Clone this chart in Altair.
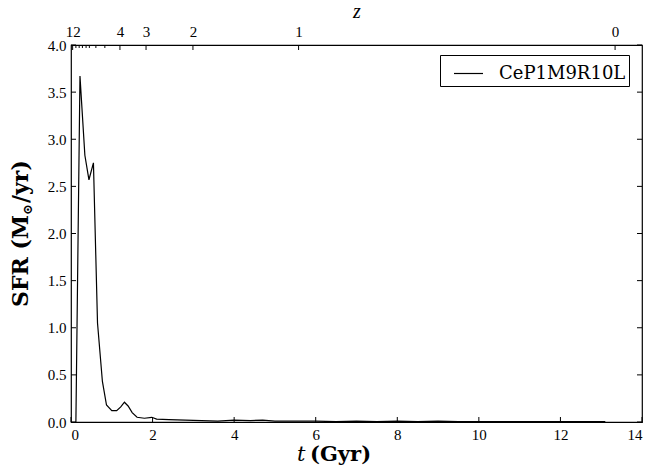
import altair as alt
import pandas as pd

# ---- data ----
t_gyr = [0.12, 0.22, 0.34, 0.44, 0.55, 0.65, 0.77, 0.87, 1.00, 1.12, 1.22, 1.31,
         1.40, 1.50, 1.62, 1.80, 1.98, 2.10, 2.40, 2.80, 3.20, 3.60, 4.00, 4.40,
         4.70, 5.00, 5.50, 6.00, 6.50, 7.00, 7.50, 8.00, 8.50, 9.00, 9.50, 10.0,
         10.5, 11.0, 11.5, 12.0, 12.5, 13.1]
sfr = [0.0, 3.67, 2.83, 2.57, 2.75, 1.05, 0.43, 0.18, 0.12, 0.12, 0.16, 0.21,
       0.17, 0.10, 0.05, 0.04, 0.05, 0.03, 0.025, 0.02, 0.015, 0.01, 0.02, 0.015,
       0.02, 0.01, 0.01, 0.01, 0.005, 0.01, 0.005, 0.01, 0.005, 0.01, 0.005, 0.005,
       0.005, 0.005, 0.005, 0.005, 0.005, 0.005]
series_name = "CeP1M9R10L"

x_ticks = [0, 2, 4, 6, 8, 10, 12, 14]
y_ticks = [0.0, 0.5, 1.0, 1.5, 2.0, 2.5, 3.0, 3.5, 4.0]
z_labels = ["12", "4", "3", "2", "1", "0"]
z_label_t = [0.04, 1.20, 1.84, 2.99, 5.58, 13.34]
z_minor_t = [0.12, 0.20, 0.28, 0.37, 0.45, 0.61, 0.83]

x_title_parts = ["t", "(Gyr)"]
y_title_parts = ["SFR (M", "⊙", "/yr)"]

W, H = 571, 377
FONT = "Liberation Serif"
TFONT = "DejaVu Serif"

xscale = alt.Scale(domain=[0, 14], nice=False, zero=False)
yscale = alt.Scale(domain=[0, 4], nice=False, zero=False)

line_df = pd.DataFrame({"t": t_gyr, "sfr": sfr, "run": series_name})

line = alt.Chart(line_df).mark_line(strokeWidth=1.2).encode(
    x=alt.X("t:Q", scale=xscale,
            axis=alt.Axis(values=x_ticks, format="d", title=None,
                          ticks=False, tickSize=0, domain=False, grid=False,
                          labelFont=FONT, labelFontSize=15, labelColor="black",
                          labelPadding=5)),
    y=alt.Y("sfr:Q", scale=yscale,
            axis=alt.Axis(values=y_ticks, format=".1f", title=None,
                          ticks=False, tickSize=0, domain=False, grid=False,
                          labelFont=FONT, labelFontSize=15, labelColor="black",
                          labelPadding=5)),
    color=alt.Color("run:N", scale=alt.Scale(range=["black"]),
                    legend=alt.Legend(title=None, orient="none", legendX=369, legendY=10,
                                      strokeColor="black", fillColor="white", padding=3,
                                      cornerRadius=0, symbolType="stroke", symbolSize=841,
                                      symbolStrokeWidth=1.2, symbolOffset=10,
                                      labelFont=TFONT, labelFontSize=18, labelColor="black",
                                      labelOffset=15)),
)

# inward ticks (matplotlib classic style)
bottom_ticks = alt.Chart(pd.DataFrame({"t": x_ticks})).mark_rule(color="black").encode(
    x=alt.X("t:Q", scale=xscale, axis=None), y=alt.value(H), y2=alt.value(H - 5))

left_ticks = alt.Chart(pd.DataFrame({"v": y_ticks})).mark_rule(color="black").encode(
    y=alt.Y("v:Q", scale=yscale, axis=None), x=alt.value(0), x2=alt.value(5))

right_ticks = alt.Chart(pd.DataFrame({"v": y_ticks})).mark_rule(color="black").encode(
    y=alt.Y("v:Q", scale=yscale, axis=None), x=alt.value(W), x2=alt.value(W - 5))

# top redshift axis
cuts = [(a + b) / 2 for a, b in zip(z_label_t[:-1], z_label_t[1:])]
expr = "'" + z_labels[-1] + "'"
for c, lab in reversed(list(zip(cuts, z_labels[:-1]))):
    expr = f"datum.value < {c} ? '{lab}' : " + expr

top_major = alt.Chart(pd.DataFrame({"t": z_label_t})).mark_rule(color="black").encode(
    x=alt.X("t:Q", scale=xscale,
            axis=alt.Axis(orient="top", values=z_label_t, labelExpr=expr, title="z",
                          ticks=False, tickSize=0, domain=False, grid=False,
                          labelFont=FONT, labelFontSize=15, labelColor="black",
                          labelPadding=6, titleFont=FONT, titleFontSize=20,
                          titleFontStyle="italic", titleFontWeight="normal",
                          titleColor="black", titlePadding=3)),
    y=alt.value(0), y2=alt.value(5))

top_minor = alt.Chart(pd.DataFrame({"t": z_minor_t})).mark_rule(color="black").encode(
    x=alt.X("t:Q", scale=xscale, axis=None), y=alt.value(0), y2=alt.value(3))


def piece(txt, x, y, size, weight="normal", style="normal", angle=0):
    return alt.Chart(pd.DataFrame({"s": [txt]})).mark_text(
        font=TFONT, fontSize=size, fontWeight=weight, fontStyle=style, angle=angle,
        align="left", baseline="alphabetic", color="black"
    ).encode(text="s:N", x=alt.value(x), y=alt.value(y))


# axis titles with mixed styles
xt1 = piece(x_title_parts[0], 226, 416, 21, style="italic")
xt2 = piece(x_title_parts[1], 239, 416, 21, weight="bold")
yt1 = piece(y_title_parts[0], -43, 262, 22, weight="bold", angle=270)
yt2 = piece(y_title_parts[1], -39, 170, 13, weight="bold", angle=270)
yt3 = piece(y_title_parts[2], -43, 158, 22, weight="bold", angle=270)

chart = alt.layer(line, bottom_ticks, left_ticks, right_ticks, top_major, top_minor,
                  xt1, xt2, yt1, yt2, yt3).resolve_axis(
    x="independent", y="independent"
).properties(
    width=W, height=H,
    autosize=alt.AutoSizeParams(type="none"),
    padding={"left": 71, "top": 45, "right": 18, "bottom": 47},
    background="white",
).configure_view(stroke="black", strokeWidth=1.2)

chart.save("out.html", embed_options={"renderer": "svg", "actions": False})
